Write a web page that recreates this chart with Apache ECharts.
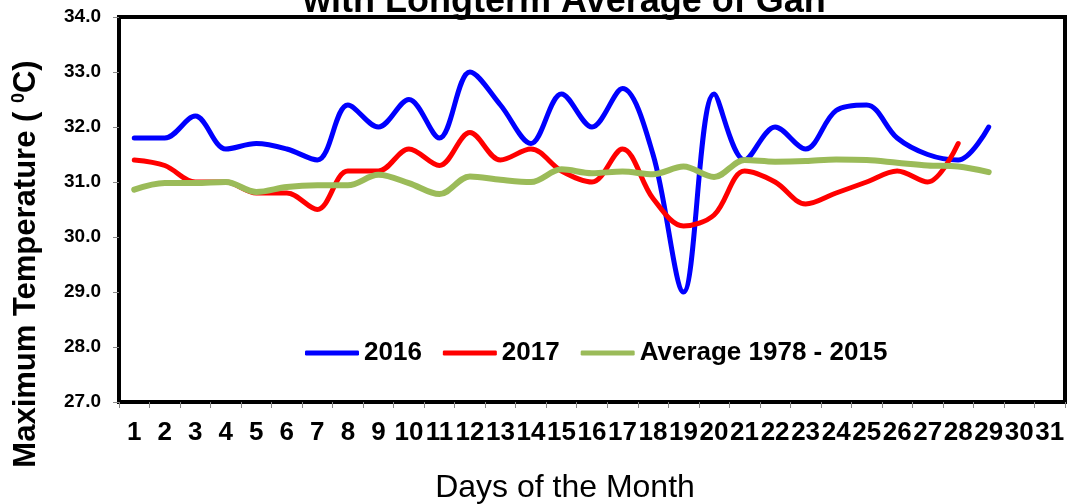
<!DOCTYPE html>
<html>
<head>
<meta charset="utf-8">
<script src="https://cdn.jsdelivr.net/npm/echarts@6/dist/echarts.min.js"></script>
<style>
html,body{margin:0;padding:0;background:#fff;}
#chart{width:1067px;height:504px;}
</style>
</head>
<body>
<div id="chart"></div>
<script>
// ---- data ----
var days = ['1','2','3','4','5','6','7','8','9','10','11','12','13','14','15','16','17','18','19','20','21','22','23','24','25','26','27','28','29','30','31'];
var yTicks = [27, 28, 29, 30, 31, 32, 33, 34];
var seriesNames = ['2016', '2017', 'Average 1978 - 2015'];
var t2016 = [31.8, 31.8, 32.2, 31.6, 31.7, 31.6, 31.4, 32.4, 32.0, 32.5, 31.8, 33.0, 32.4, 31.7, 32.6, 32.0, 32.7, 31.5, 29.0, 32.6, 31.4, 32.0, 31.6, 32.3, 32.4, 31.8, 31.5, 31.4, 32.0];
var t2017 = [31.4, 31.3, 31.0, 31.0, 30.8, 30.8, 30.5, 31.2, 31.2, 31.6, 31.3, 31.9, 31.4, 31.6, 31.2, 31.0, 31.6, 30.7, 30.2, 30.4, 31.2, 31.0, 30.6, 30.8, 31.0, 31.2, 31.0, 31.7];
var tAvg = [30.86, 30.98, 30.98, 31.0, 30.82, 30.91, 30.94, 30.94, 31.13, 30.98, 30.78, 31.1, 31.04, 31.0, 31.23, 31.16, 31.19, 31.14, 31.28, 31.09, 31.4, 31.37, 31.38, 31.41, 31.4, 31.35, 31.3, 31.28, 31.18];
var titleText = 'with Longterm Average of Gan';
var xName = 'Days of the Month';
var yName = 'Maximum Temperature ( {sup|0}C)';

var FONT = 'Liberation Sans, Arial, sans-serif';
var chart = echarts.init(document.getElementById('chart'), null, {renderer: 'canvas'});

function lineSeries(name, data, color, width) {
  return {
    name: name, type: 'line', data: data, smooth: 0.34, symbol: 'none', showSymbol: false,
    lineStyle: {color: color, width: width, cap: 'round', join: 'round'},
    itemStyle: {color: color}
  };
}

chart.setOption({
  backgroundColor: '#fff',
  animation: false,
  title: {
    text: titleText, left: 298, top: -21,
    textStyle: {fontFamily: FONT, fontWeight: 'bold', fontSize: 36, color: '#000', lineHeight: 36}
  },
  grid: {left: 119, right: 2, top: 17, bottom: 102, containLabel: false, outerBoundsMode: 'none',
    show: true, borderColor: '#000', borderWidth: 4, backgroundColor: 'transparent'},
  legend: {
    left: 300, top: 335, icon: 'roundRect', itemWidth: 54, itemHeight: 5, itemGap: 21,
    data: seriesNames,
    textStyle: {fontFamily: FONT, fontWeight: 'bold', fontSize: 26, color: '#000'}
  },
  xAxis: {
    type: 'category', data: days, boundaryGap: true,
    name: xName, nameLocation: 'middle', nameGap: 70,
    nameTextStyle: {fontFamily: FONT, fontSize: 32, color: '#000', verticalAlign: 'top', padding: [0, 54, 0, 0]},
    axisLine: {show: true, lineStyle: {color: '#000', width: 4}},
    axisTick: {show: true, length: 6, lineStyle: {color: '#888', width: 1}, interval: 0},
    axisLabel: {interval: 0, margin: 18, fontFamily: FONT, fontWeight: 'bold', fontSize: 26, color: '#000'},
    splitLine: {show: false}
  },
  yAxis: {
    type: 'value', min: yTicks[0], max: yTicks[yTicks.length - 1], interval: 1,
    axisLine: {show: true, lineStyle: {color: '#000', width: 4}},
    axisTick: {show: true, length: 6, lineStyle: {color: '#888', width: 1}},
    axisLabel: {margin: 18, fontFamily: FONT, fontWeight: 'bold', fontSize: 19, color: '#000',
      formatter: function (v) { return v.toFixed(1); }},
    splitLine: {show: false}
  },
  graphic: [{
    type: 'text', x: 26, y: 264, rotation: Math.PI / 2,
    style: {
      text: yName,
      rich: {sup: {fontFamily: FONT, fontWeight: 'bold', fontSize: 18, verticalAlign: 'top', padding: [0, 0, 14, 0]}},
      fontFamily: FONT, fontWeight: 'bold', fontSize: 31, fill: '#000',
      align: 'center', verticalAlign: 'middle'
    }
  }],
  series: [
    lineSeries(seriesNames[0], t2016, '#0000FF', 5),
    lineSeries(seriesNames[1], t2017, '#FF0000', 5),
    lineSeries(seriesNames[2], tAvg, '#9BBB59', 6)
  ]
});
</script>
</body>
</html>
